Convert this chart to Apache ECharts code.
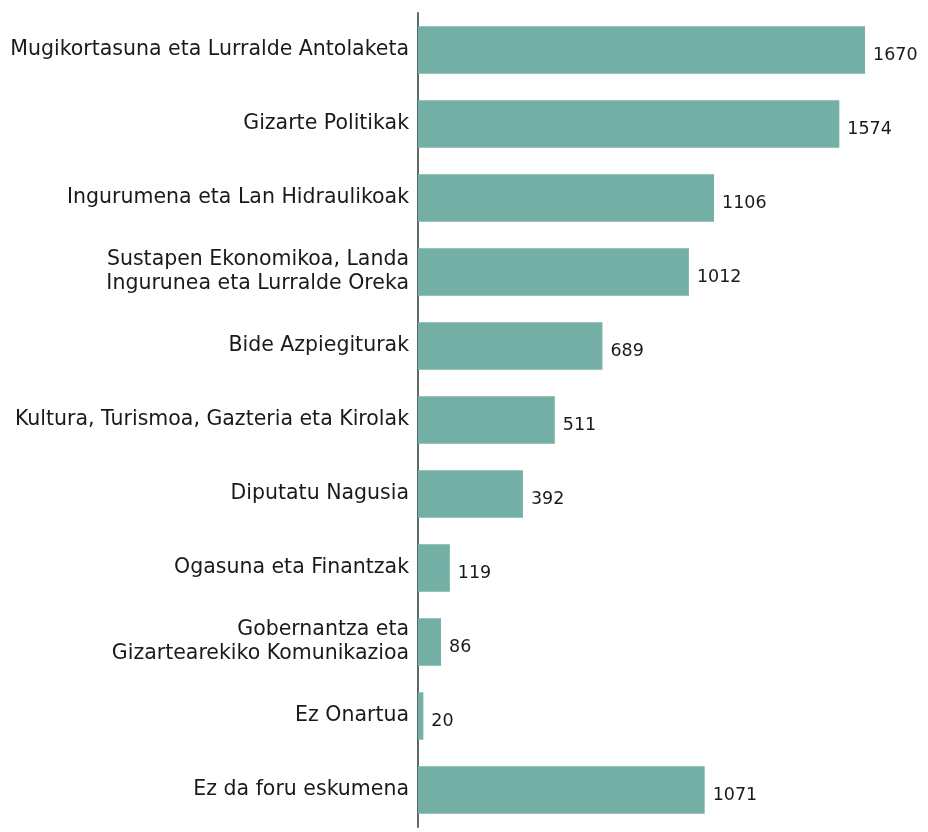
<!DOCTYPE html>
<html>
<head>
<meta charset="utf-8">
<script src="https://cdn.jsdelivr.net/npm/echarts@6/dist/echarts.min.js"></script>
<style>
  html, body { margin: 0; padding: 0; background: #fff; }
  #chart { width: 928px; height: 832px; }
</style>
</head>
<body>
<div id="chart"></div>
<script>
// kategoriak, goitik behera
var categories = [
  "Mugikortasuna eta Lurralde Antolaketa",
  "Gizarte Politikak",
  "Ingurumena eta Lan Hidraulikoak",
  "Sustapen Ekonomikoa, Landa\nIngurunea eta Lurralde Oreka",
  "Bide Azpiegiturak",
  "Kultura, Turismoa, Gazteria eta Kirolak",
  "Diputatu Nagusia",
  "Ogasuna eta Finantzak",
  "Gobernantza eta\nGizartearekiko Komunikazioa",
  "Ez Onartua",
  "Ez da foru eskumena"
];
var values = [1670, 1574, 1106, 1012, 689, 511, 392, 119, 86, 20, 1071];

var chart = echarts.init(document.getElementById("chart"));
var font = "'DejaVu Sans', sans-serif";

var option = {
  animation: false,
  grid: {
    left: 418,
    right: 63,
    top: 13,
    bottom: 5
  },
  xAxis: {
    type: "value",
    min: 0,
    max: 1670,
    show: false
  },
  yAxis: {
    type: "category",
    data: categories,
    inverse: true,
    axisLine: { show: true, lineStyle: { color: "#5b6b63", width: 2 } },
    axisTick: { show: false },
    axisLabel: {
      color: "#1a1a1a",
      fontFamily: font,
      fontSize: 20.5,
      lineHeight: 24,
      margin: 9,
      padding: [7, 0, 0, 0],
      align: "right"
    }
  },
  series: [
    {
      type: "bar",
      data: values,
      barCategoryGap: "36%",
      itemStyle: { color: "#74b0a6" },
      label: {
        show: true,
        position: "right",
        distance: 8,
        offset: [0, 5],
        color: "#1a1a1a",
        fontFamily: font,
        fontSize: 17.5
      }
    }
  ]
};

chart.setOption(option);
</script>
</body>
</html>
